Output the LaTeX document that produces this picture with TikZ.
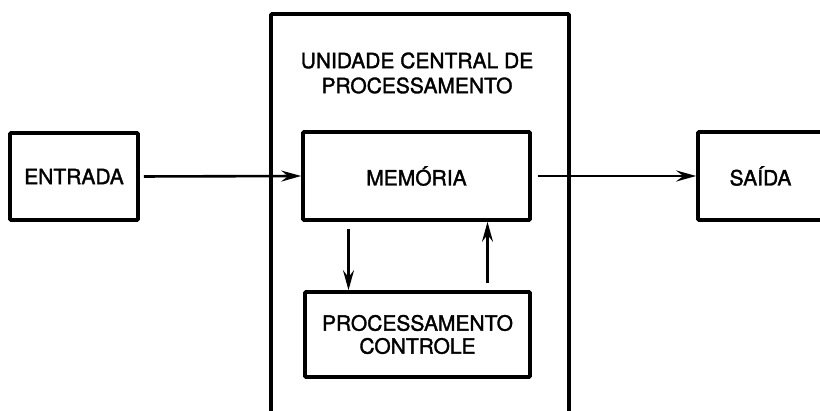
\documentclass[tikz,border=0pt]{standalone}
\usepackage{fontspec}
\setmainfont[FakeBold=1.6]{TeX Gyre Heros}
\usetikzlibrary{arrows.meta}

\tikzset{
    blockbox/.style={draw, line width=3.6pt, rounded corners=1pt, inner sep=0pt, align=center},
    flow/.style={line width=2.6pt, -{Stealth[length=20pt, width=11pt, inset=7pt]}}
}

\begin{document}
\begin{tikzpicture}[x=1pt, y=-1pt, font=\fontsize{21}{23}\selectfont]
    \useasboundingbox (0, 0) rectangle (820, 411);

    % CPU frame
    \node[blockbox, minimum width=298pt, minimum height=430pt] (cpu) at (420, 229) {};
    \node[align=center, font=\fontsize{21}{25}\selectfont] (title) at (417, 73) {UNIDADE CENTRAL DE\\PROCESSAMENTO};

    % Blocks
    \node[blockbox, minimum width=128pt, minimum height=87pt] (entrada) at (74, 176.5) {ENTRADA};
    \node[blockbox, minimum width=227pt, minimum height=88pt] (memoria) at (416.5, 176) {MEMÓRIA};
    \node[blockbox, minimum width=225pt, minimum height=85pt] (proc) at (417.5, 334.5) {PROCESSAMENTO\\CONTROLE};
    \node[blockbox, minimum width=125pt, minimum height=88pt] (saida) at (760.5, 176) {SAÍDA};

    % Connectors
    \draw[flow, shorten <=4pt] (entrada.east) -- (memoria.west);
    \draw[flow, shorten <=6pt] (memoria.east) -- (saida.west);
    \draw[flow, shorten <=7pt] ([xshift=-68pt]memoria.south) -- ([xshift=-68pt]memoria.south |- proc.north);
    \draw[flow, shorten <=7pt] ([xshift=70pt]proc.north) -- ([xshift=70pt]proc.north |- memoria.south);
\end{tikzpicture}
\end{document}
